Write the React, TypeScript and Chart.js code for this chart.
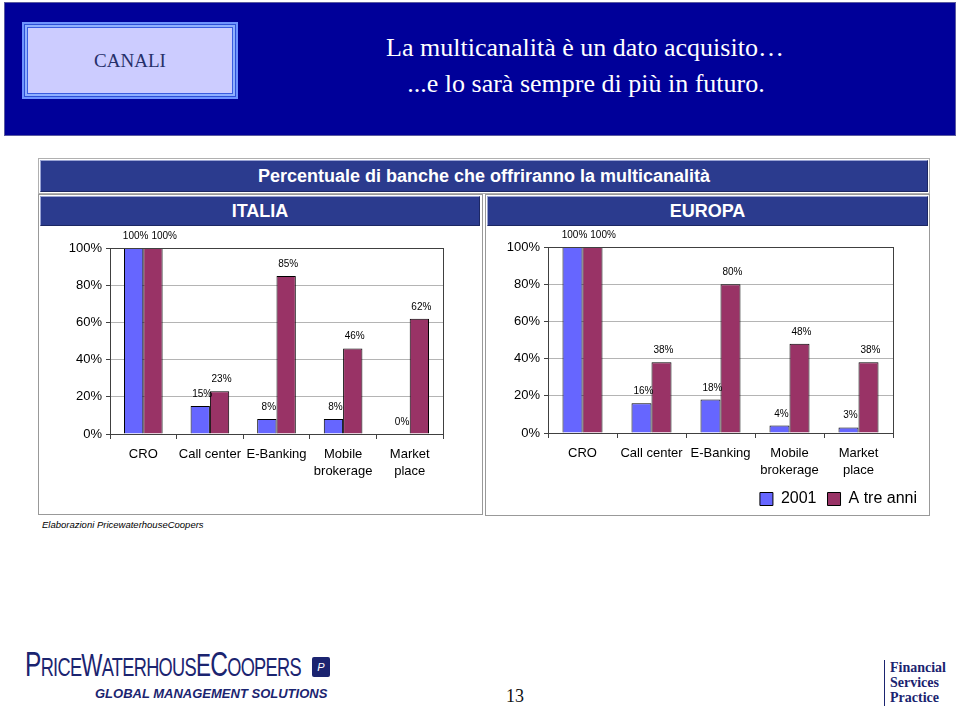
import React, { useEffect, useRef } from "react";
import { Chart, registerables } from "chart.js";

Chart.register(...registerables);
Chart.defaults.font.family = 'Arial, "Liberation Sans", sans-serif';

// ---------- data ----------
const categories: (string | string[])[] = [
  "CRO",
  "Call center",
  "E-Banking",
  ["Mobile", "brokerage"],
  ["Market", "place"],
];
const seriesNames = ["2001", "A tre anni"];
const italia2001 = [100, 15, 8, 8, 0];
const italiaFuture = [100, 23, 85, 46, 62];
const europa2001 = [100, 16, 18, 4, 3];
const europaFuture = [100, 38, 80, 48, 38];
const yTickStep = 20;
const yMax = 100;

const BLUE = "#6666FF";
const PLUM = "#993366";
const AXIS = "#404040";
const GRID = "#b4b4b4";

const valueLabels = {
  id: "valueLabels",
  afterDatasetsDraw(chart: any) {
    const { ctx } = chart;
    ctx.save();
    ctx.font = '10px Arial, "Liberation Sans", sans-serif';
    ctx.fillStyle = "#000";
    ctx.textAlign = "center";
    ctx.textBaseline = "alphabetic";
    const n = chart.data.labels.length;
    for (let j = 0; j < n; j++) {
      let prevRight = -Infinity;
      let prevY = NaN;
      chart.data.datasets.forEach((ds: any, i: number) => {
        const bar: any = chart.getDatasetMeta(i).data[j];
        const txt = ds.data[j] + "%";
        const w = ctx.measureText(txt).width;
        let x = bar.x + 2;
        const y = bar.y - 9;
        if (Math.abs(y - prevY) < 10 && x - w / 2 < prevRight + 3) x = prevRight + 3 + w / 2;
        ctx.fillText(txt, x, y);
        prevRight = x + w / 2;
        prevY = y;
      });
    }
    ctx.restore();
  },
};

const plotFrame = {
  id: "plotFrame",
  afterDatasetsDraw(chart: any) {
    const { ctx, chartArea: a } = chart;
    ctx.save();
    ctx.strokeStyle = AXIS;
    ctx.lineWidth = 1;
    ctx.strokeRect(Math.round(a.left) + 0.5, Math.round(a.top) + 0.5, Math.round(a.right - a.left), Math.round(a.bottom - a.top));
    ctx.restore();
  },
};

type Geo = { yW: number; rW: number; xH: number; top: number; bottom: number; legend: boolean };

function makeConfig(a: number[], b: number[], g: Geo): any {
  return {
    type: "bar",
    data: {
      labels: categories,
      datasets: [
        { label: seriesNames[0], data: a, backgroundColor: BLUE, borderColor: "#000", borderWidth: 1, categoryPercentage: 0.58, barPercentage: 1, yAxisID: "y" },
        { label: seriesNames[1], data: b, backgroundColor: PLUM, borderColor: "#000", borderWidth: 1, categoryPercentage: 0.58, barPercentage: 1, yAxisID: "y" },
      ],
    },
    options: {
      animation: false,
      responsive: false,
      maintainAspectRatio: false,
      layout: { padding: { left: 0, right: 0, top: g.top, bottom: g.bottom } },
      plugins: {
        legend: {
          display: g.legend,
          position: "bottom",
          align: "end",
          labels: { boxWidth: 13, boxHeight: 13, color: "#000", font: { size: 16 }, padding: 11 },
        },
        tooltip: { enabled: false },
      },
      scales: {
        x: {
          grid: { display: true, drawOnChartArea: false, drawTicks: true, tickLength: 5, color: AXIS, offset: true },
          border: { color: AXIS },
          ticks: { color: "#000", font: { size: 13, lineHeight: 1.3 }, padding: 7, maxRotation: 0, autoSkip: false },
          afterFit: (s: any) => { s.height = g.xH; },
        },
        y: {
          min: 0,
          max: yMax,
          ticks: { stepSize: yTickStep, callback: (v: any) => v + "%", color: "#000", font: { size: 13 }, padding: 4 },
          grid: { color: GRID, tickColor: AXIS, tickLength: 4 },
          border: { color: AXIS },
          afterFit: (s: any) => { s.width = g.yW; },
        },
        yR: {
          type: "linear",
          position: "right",
          display: true,
          grid: { display: false },
          ticks: { display: false },
          border: { display: false },
          afterFit: (s: any) => { s.width = g.rW; },
        },
      },
    },
    plugins: [valueLabels, plotFrame],
  };
}

function BarChart({ a, b, g, w, h }: { a: number[]; b: number[]; g: Geo; w: number; h: number }) {
  const ref = useRef<HTMLCanvasElement>(null);
  useEffect(() => {
    const c = new Chart(ref.current as HTMLCanvasElement, makeConfig(a, b, g));
    return () => c.destroy();
  }, []);
  return <canvas ref={ref} width={w} height={h} style={{ width: w, height: h, display: "block" }} />;
}

const abs = (l: number, t: number, w: number, h: number): React.CSSProperties => ({ position: "absolute", left: l, top: t, width: w, height: h });

const barHead: React.CSSProperties = {
  background: "#2B3B8E",
  color: "#fff",
  fontWeight: "bold",
  fontSize: 18,
  display: "flex",
  alignItems: "center",
  justifyContent: "center",
  boxSizing: "border-box",
  borderStyle: "solid",
  borderWidth: 1,
  borderColor: "#9aa4d4 #1c2763 #1c2763 #9aa4d4",
};

export default function App() {
  return (
    <div style={{ position: "absolute", left: 0, top: 0, width: 960, height: 706, background: "#fff", overflow: "hidden", fontFamily: 'Arial, "Liberation Sans", sans-serif' }}>
      {/* header */}
      <div style={{ ...abs(4, 2, 952, 134), background: "#000099", boxSizing: "border-box", border: "1px solid #5a5aa0" }} />
      <div style={{ ...abs(22, 22, 216, 77), background: "#6f94ff", boxSizing: "border-box", padding: 2 }}>
        <div style={{ width: "100%", height: "100%", boxSizing: "border-box", border: "1px solid #2d4fd6", padding: 2, background: "#8fb0ff" }}>
          <div style={{ width: "100%", height: "100%", boxSizing: "border-box", border: "1px solid #3a5ce0", background: "#CCCCFF", display: "flex", alignItems: "center", justifyContent: "center", fontFamily: '"Liberation Serif", "Times New Roman", serif', fontSize: 19, color: "#26306a" }}>
            CANALI
          </div>
        </div>
      </div>
      <div style={{ ...abs(335, 30, 500, 36), color: "#fff", fontFamily: '"Liberation Serif", "Times New Roman", serif', fontSize: 26, textAlign: "center", lineHeight: "36px" }}>
        La multicanalità è un dato acquisito…
      </div>
      <div style={{ ...abs(336, 66, 500, 36), color: "#fff", fontFamily: '"Liberation Serif", "Times New Roman", serif', fontSize: 26, textAlign: "center", lineHeight: "36px" }}>
        ...e lo sarà sempre di più in futuro.
      </div>

      {/* chart frame */}
      <div style={{ ...abs(38, 158, 892, 36), boxSizing: "border-box", border: "1px solid #b0b0b0", background: "#fff" }} />
      <div style={{ ...abs(40, 160, 888, 32), ...barHead }}>Percentuale di banche che offriranno la multicanalità</div>

      <div style={{ ...abs(38, 194, 445, 321), boxSizing: "border-box", border: "1px solid #999", background: "#fff" }} />
      <div style={{ ...abs(485, 194, 445, 322), boxSizing: "border-box", border: "1px solid #999", background: "#fff" }} />
      <div style={{ ...abs(40, 196, 440, 30), ...barHead }}>ITALIA</div>
      <div style={{ ...abs(487, 196, 441, 30), ...barHead }}>EUROPA</div>

      <div style={abs(40, 228, 440, 284)}>
        <BarChart a={italia2001} b={italiaFuture} w={440} h={284} g={{ yW: 70, rW: 37, xH: 60, top: 20, bottom: 18, legend: false }} />
      </div>
      <div style={abs(487, 228, 441, 295)}>
        <BarChart a={europa2001} b={europaFuture} w={441} h={295} g={{ yW: 61, rW: 35, xH: 47, top: 19, bottom: 6, legend: true }} />
      </div>

      <div style={{ ...abs(42, 518, 300, 14), fontSize: 9.5, fontStyle: "italic", color: "#000", lineHeight: "14px" }}>
        Elaborazioni PricewaterhouseCoopers
      </div>

      {/* footer */}
      <div style={{ position: "absolute", left: 25, top: 646, whiteSpace: "nowrap", color: "#1b2470", fontFamily: '"Liberation Sans", Arial, sans-serif', transform: "scaleX(0.7)", transformOrigin: "left top", letterSpacing: -1, lineHeight: "36px" }}>
        <span style={{ fontSize: 35 }}>P</span>
        <span style={{ fontSize: 26 }}>RICE</span>
        <span style={{ fontSize: 32 }}>W</span>
        <span style={{ fontSize: 26 }}>ATERHOUS</span>
        <span style={{ fontSize: 32 }}>E</span>
        <span style={{ fontSize: 35 }}>C</span>
        <span style={{ fontSize: 26 }}>OOPERS</span>
      </div>
      <div style={{ ...abs(312, 657, 18, 20), background: "#1b2470", color: "#fff", fontSize: 11, fontStyle: "italic", display: "flex", alignItems: "center", justifyContent: "center", borderRadius: 2 }}>P</div>
      <div style={{ ...abs(95, 686, 260, 16), fontSize: 13, fontWeight: "bold", fontStyle: "italic", color: "#1b2470", lineHeight: "16px", whiteSpace: "nowrap" }}>
        GLOBAL MANAGEMENT SOLUTIONS
      </div>
      <div style={{ ...abs(500, 686, 30, 20), fontFamily: '"Liberation Serif", serif', fontSize: 18, textAlign: "center", lineHeight: "20px", color: "#111" }}>13</div>
      <div style={{ ...abs(884, 660, 1, 46), background: "#1b2470" }} />
      <div style={{ ...abs(890, 660, 70, 46), fontFamily: '"Liberation Serif", serif', fontWeight: "bold", fontSize: 14, lineHeight: "15px", color: "#1b2470" }}>
        Financial<br />Services<br />Practice
      </div>
    </div>
  );
}
